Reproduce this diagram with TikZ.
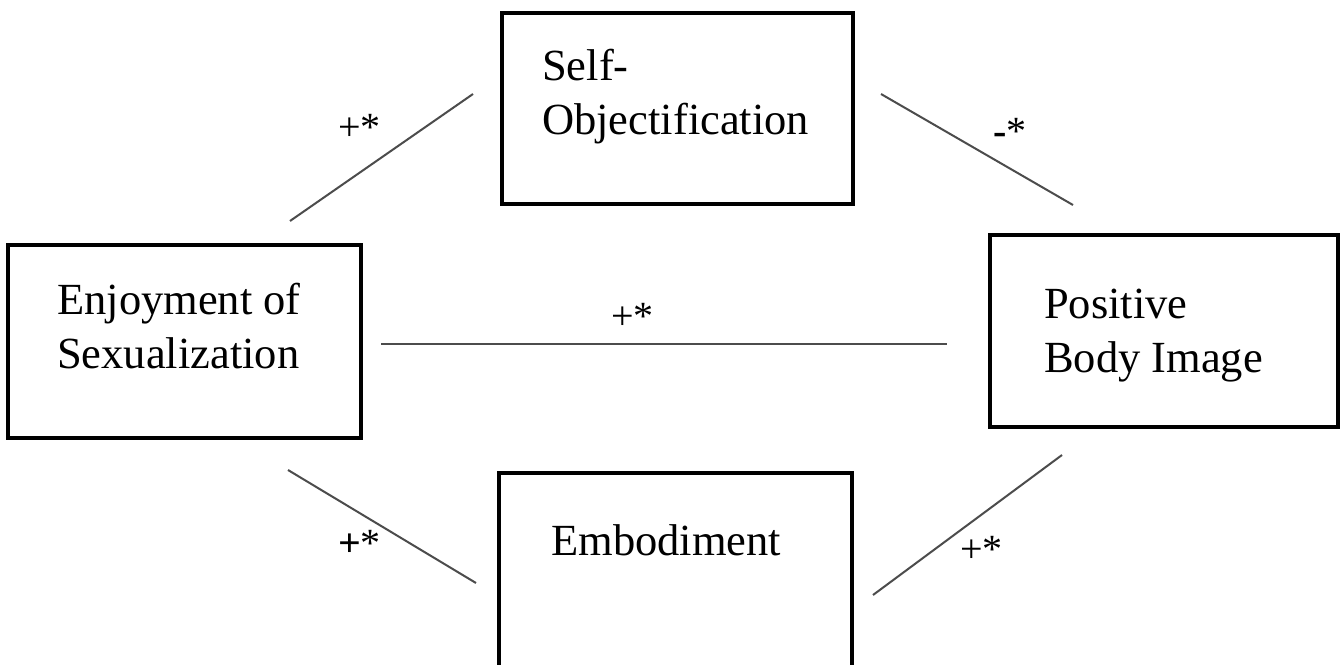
\documentclass[tikz,border=0pt]{standalone}
\usepackage{fontspec}
\setmainfont{Liberation Serif}
\begin{document}
\begin{tikzpicture}[x=1pt,y=-1pt,
  box/.style={draw=black,line width=3.3pt,rectangle,inner sep=0pt},
  boxtext/.style={anchor=base west,inner sep=0pt,align=left,
    font=\fontsize{44.5}{54}\selectfont},
  path/.style={draw=black!70,line width=2pt},
  sign/.style={anchor=base west,inner sep=0pt,font=\fontsize{40}{48}\selectfont}]
\useasboundingbox[fill=white] (0,0) rectangle (1341,664);

% variable boxes
\node[box,minimum width=353pt,minimum height=193pt] (enj) at (184.5,341.5) {};
\node[box,minimum width=351pt,minimum height=191pt] (obj) at (677.5,108.5) {};
\node[box,minimum width=348pt,minimum height=192pt] (pbi) at (1164,331) {};
\node[box,minimum width=353pt,minimum height=210pt] (emb) at (675.5,578) {};

% box labels (anchored on the baseline of the last line)
\node[boxtext] (enjtxt) at (57,368) {Enjoyment of\\Sexualization};
\node[boxtext] (objtxt) at (542,134) {Self-\\Objectification};
\node[boxtext] (pbitxt) at (1044,372) {Positive\\Body Image};
\node[boxtext] (embtxt) at (551,555) {Embodiment};

% free ends of the paths
\coordinate (a1) at (290,221);
\coordinate (a2) at (473,94);
\coordinate (b1) at (881,94);
\coordinate (b2) at (1073,205);
\coordinate (c1) at (381,344);
\coordinate (c2) at (947,344);
\coordinate (d1) at (288,470);
\coordinate (d2) at (476,583);
\coordinate (e1) at (873,595);
\coordinate (e2) at (1062,455);

\draw[path] (a1) -- (a2);
\draw[path] (b1) -- (b2);
\draw[path] (c1) -- (c2);
\draw[path] (d1) -- (d2);
\draw[path] (e1) -- (e2);

% path signs
\node[sign] (sa) at (338,140) {+*};
\node[sign] (sb) at (993,144) {\textbf{-}*};
\node[sign] (sc) at (611,329) {+*};
\node[sign] (sd) at (338,556) {\textbf{+}*};
\node[sign] (se) at (960,562) {+*};
\end{tikzpicture}
\end{document}
